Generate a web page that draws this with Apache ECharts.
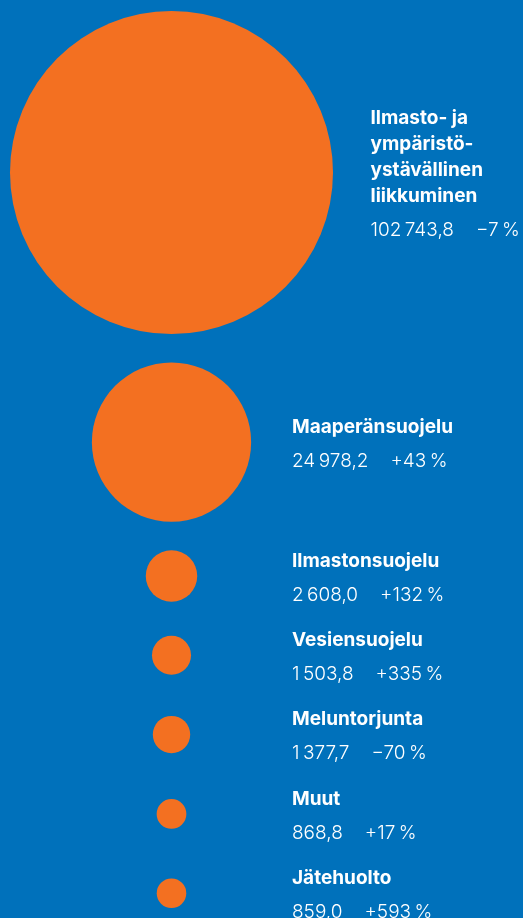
<!DOCTYPE html>
<html>
<head>
<meta charset="utf-8">
<script src="https://cdn.jsdelivr.net/npm/echarts@6/dist/echarts.min.js"></script>
<style>
  html, body { margin: 0; padding: 0; background: #0071bb; }
  #chart { width: 523px; height: 918px; }
</style>
</head>
<body>
<div id="chart"></div>
<script>
// luokat (rivinvaihdot kuten kuvassa)
const names = [
  'Ilmasto- ja\nympäristö-\nystävällinen\nliikkuminen',
  'Maaperänsuojelu',
  'Ilmastonsuojelu',
  'Vesiensuojelu',
  'Meluntorjunta',
  'Muut',
  'Jätehuolto'
];
const values = [102743.8, 24978.2, 2608.0, 1503.8, 1377.7, 868.8, 859.0];
const changes = ['\u22127\u202F%', '+43\u202F%', '+132\u202F%', '+335\u202F%', '\u221270\u202F%', '+17\u202F%', '+593\u202F%'];

// layout constants
const maxDiameter = 323;
const centerX = 171.5;
const topMargin = 11;
const gap = 28.5;
const minStep = 79.3;
const labelX = 292;
const minLabelDist = 37.5;

function fmt(v) {
  const parts = v.toFixed(1).split('.');
  const intPart = parts[0].replace(/\B(?=(\d{3})+(?!\d))/g, '\u2009');
  return intPart + ',' + parts[1];
}

const vmax = Math.max(...values);
const sizes = values.map(v => maxDiameter * Math.sqrt(v / vmax));

// pinotaan ympyrät pystysuunnassa
const ys = [];
sizes.forEach((d, i) => {
  if (i === 0) {
    ys.push(topMargin + d / 2);
  } else {
    const prev = ys[i - 1];
    const step = Math.max(sizes[i - 1] / 2 + gap + d / 2, minStep);
    ys.push(prev + step);
  }
});

const seriesData = values.map((v, i) => {
  const r = sizes[i] / 2;
  const text = names[i].split('\n').map(l => '{n|' + l + '}').join('\n') +
    '\n{v|' + fmt(v) + '}{p|' + changes[i] + '}';
  return {
    value: [centerX, ys[i]],
    symbolSize: sizes[i],
    label: {
      distance: Math.max(labelX - (centerX + r), minLabelDist),
      formatter: text
    }
  };
});

const chart = echarts.init(document.getElementById('chart'));
chart.setOption({
  backgroundColor: '#0071bb',
  animation: false,
  grid: { left: 0, right: 0, top: 0, bottom: 0 },
  xAxis: { type: 'value', min: 0, max: 523, show: false },
  yAxis: { type: 'value', min: 0, max: 918, inverse: true, show: false },
  series: [{
    type: 'scatter',
    symbol: 'circle',
    itemStyle: { color: '#f37021', opacity: 1 },
    label: {
      show: true,
      position: 'right',
      offset: [0, 6],
      rich: {
        n: { fontFamily: 'Inter', fontWeight: 'bold', fontSize: 19, lineHeight: 26, color: '#ffffff' },
        v: { fontFamily: 'Inter', fontWeight: 300, fontSize: 19, lineHeight: 42, color: '#ffffff' },
        p: { fontFamily: 'Inter', fontWeight: 300, fontSize: 19, lineHeight: 42, color: '#ffffff', padding: [0, 0, 0, 22] }
      }
    },
    emphasis: { disabled: true },
    data: seriesData
  }]
});
</script>
</body>
</html>
